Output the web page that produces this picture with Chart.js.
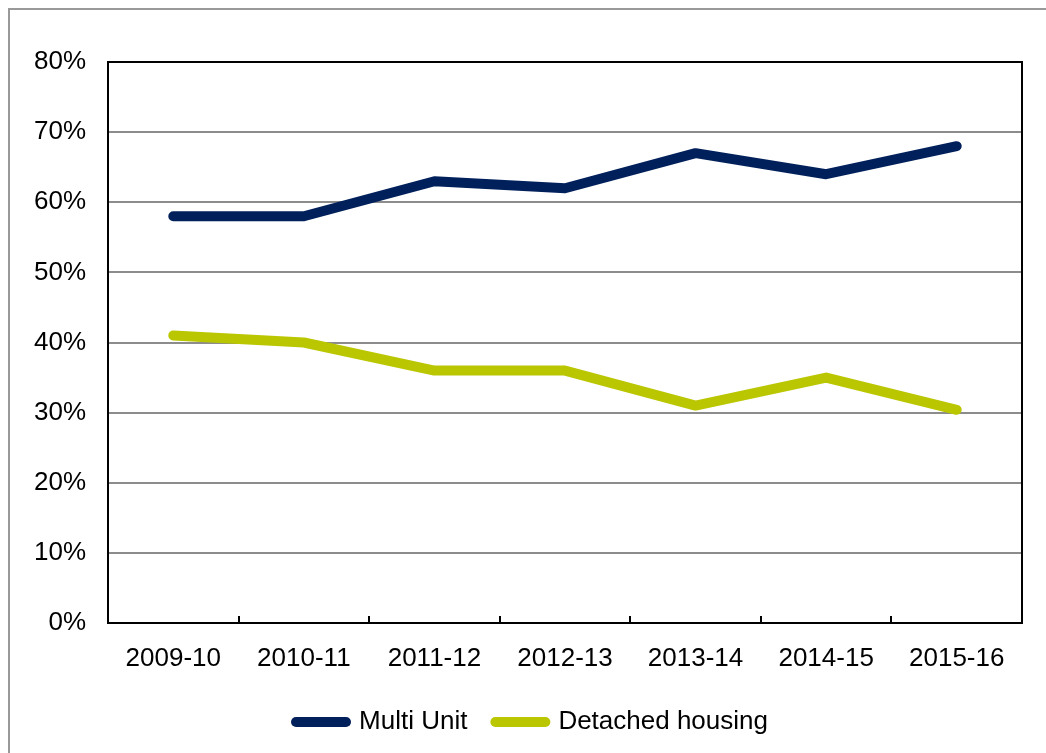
<!DOCTYPE html>
<html>
<head>
<meta charset="utf-8">
<script src="https://cdn.jsdelivr.net/npm/chart.js@4/dist/chart.umd.min.js"></script>
<style>
  html, body { margin: 0; padding: 0; background: #fff; overflow: hidden; }
  #wrap { position: relative; width: 1046px; height: 753px; }
  #frame { position: absolute; left: 8px; top: 8px; width: 1100px; height: 800px;
           border-left: 2px solid #999; border-top: 2px solid #999; }
  canvas { position: absolute; left: 0; top: 0; }
</style>
</head>
<body>
<div id="wrap">
  <div id="frame"></div>
  <canvas id="chart" width="1046" height="753"></canvas>
</div>
<script>
// financial years
const years = ['2009-10', '2010-11', '2011-12', '2012-13', '2013-14', '2014-15', '2015-16'];
// share of dwellings, %
const multiUnit = [58, 58, 63, 62, 67, 64, 68];
const detached = [41, 40, 36, 36, 31, 35, 30.4];
const yTicks = [0, 10, 20, 30, 40, 50, 60, 70, 80];

const FONT = { family: 'Liberation Sans, Arial, sans-serif', size: 26 };

// black box round the plot + little ticks between categories
const plotBox = {
    id: 'plotBox',
    afterInit(chart) {
        // fixed legend height so the plot keeps its place
        const lg = chart.legend;
        const fit = lg.fit;
        lg.fit = function () { fit.call(this); this.height = 72; };
    },
    afterLayout(chart) {
        // legend sits a bit right of centre in the original
        chart.legend.left += 21;
        chart.legend.right += 21;
    },
    beforeDatasetsDraw(chart) {
        const { ctx, chartArea: a, scales: { x } } = chart;
        ctx.save();
        ctx.strokeStyle = '#000';
        ctx.lineWidth = 2;
        ctx.strokeRect(a.left, a.top, a.right - a.left, a.bottom - a.top);
        ctx.beginPath();
        for (let i = 1; i < years.length; i++) {
            const px = Math.round((x.getPixelForTick(i - 1) + x.getPixelForTick(i)) / 2);
            ctx.moveTo(px, a.bottom);
            ctx.lineTo(px, a.bottom - 7);
        }
        ctx.stroke();
        ctx.restore();
    }
};

const ctx = document.getElementById('chart').getContext('2d');

new Chart(ctx, {
    type: 'line',
    data: {
        labels: years,
        datasets: [{
            label: 'Multi Unit',
            data: multiUnit,
            borderColor: '#00205B',
            backgroundColor: '#00205B',
            borderWidth: 10,
            borderCapStyle: 'round',
            borderJoinStyle: 'round',
            pointRadius: 0,
            tension: 0
        }, {
            label: 'Detached housing',
            data: detached,
            borderColor: '#BAC600',
            backgroundColor: '#BAC600',
            borderWidth: 10,
            borderCapStyle: 'round',
            borderJoinStyle: 'round',
            pointRadius: 0,
            tension: 0
        }]
    },
    options: {
        responsive: false,
        animation: false,
        layout: { padding: { left: 0, right: 24, top: 62, bottom: 0 } },
        plugins: {
            tooltip: { enabled: false },
            legend: {
                position: 'bottom',
                labels: {
                    usePointStyle: true,
                    pointStyle: 'line',
                    pointStyleWidth: 50,
                    color: '#000',
                    padding: 28,
                    font: FONT,
                    generateLabels(chart) {
                        return Chart.defaults.plugins.legend.labels.generateLabels(chart).map(it => {
                            it.lineCap = 'round';
                            it.lineWidth = 10;
                            return it;
                        });
                    }
                }
            }
        },
        scales: {
            x: {
                offset: true,
                grid: { display: false },
                border: { display: false },
                ticks: {
                    color: '#000',
                    padding: 12,
                    maxRotation: 0,
                    font: FONT
                },
                afterFit(scale) { scale.height = 58; }
            },
            y: {
                min: 0,
                max: 80,
                afterBuildTicks(scale) { scale.ticks = yTicks.map(v => ({ value: v })); },
                grid: { color: '#8c8c8c', lineWidth: 2, drawTicks: false },
                border: { display: false },
                ticks: {
                    color: '#000',
                    padding: 22,
                    callback: v => v + '%',
                    font: FONT
                },
                afterFit(scale) { scale.width = 108; }
            }
        }
    },
    plugins: [plotBox]
});
</script>
</body>
</html>
